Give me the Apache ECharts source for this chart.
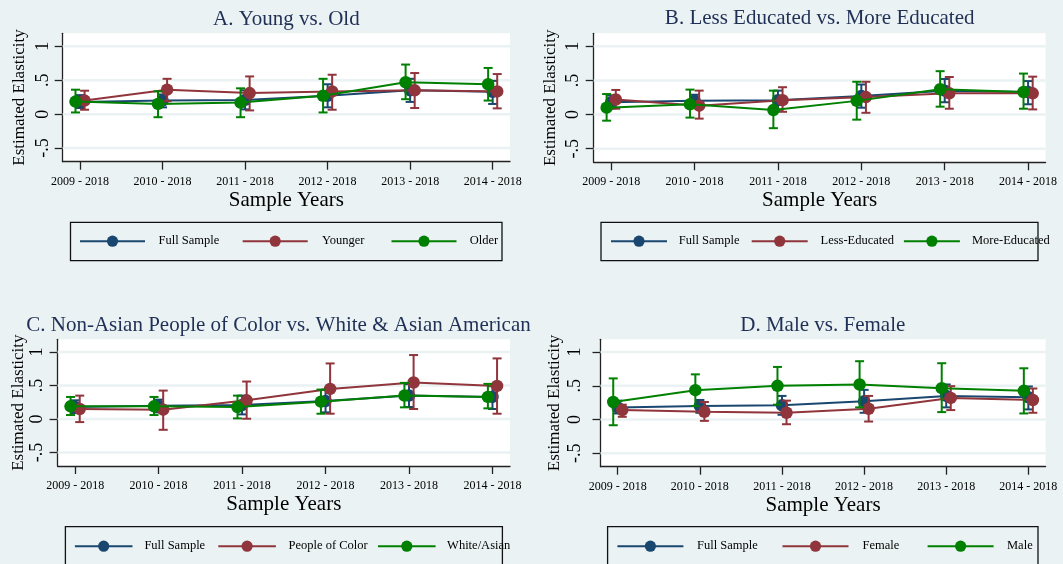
<!DOCTYPE html>
<html><head><meta charset="utf-8">
<script src="https://cdn.jsdelivr.net/npm/echarts@6/dist/echarts.min.js"></script>
<style>html,body{margin:0;padding:0;background:#eaf2f3}#c{width:1063px;height:564px}</style>
</head><body><div id="c"></div>
<script>
// ---------- data ----------
const categories = ['2009 - 2018', '2010 - 2018', '2011 - 2018', '2012 - 2018', '2013 - 2018', '2014 - 2018'];
const yTicks = [-0.5, 0, 0.5, 1];
const panelTitles = ['A. Young vs. Old', 'B. Less Educated vs. More Educated',
  'C. Non-Asian People of Color vs. White & Asian American', 'D. Male vs. Female'];

const fullVal = [0.18, 0.20, 0.21, 0.27, 0.35, 0.33];
const fullLo  = [0.09, 0.10, 0.07, 0.10, 0.18, 0.15];
const fullHi  = [0.28, 0.29, 0.35, 0.44, 0.52, 0.49];
// A
const youngerVal = [0.20, 0.36, 0.31, 0.335, 0.35, 0.335];
const youngerLo  = [0.065, 0.19, 0.055, 0.065, 0.09, 0.085];
const youngerHi  = [0.345, 0.52, 0.555, 0.58, 0.605, 0.59];
const olderVal = [0.185, 0.15, 0.17, 0.27, 0.47, 0.44];
const olderLo  = [0.025, -0.045, -0.045, 0.025, 0.22, 0.20];
const olderHi  = [0.36, 0.335, 0.38, 0.52, 0.73, 0.68];
// B
const lessEdVal = [0.22, 0.13, 0.21, 0.255, 0.31, 0.31];
const lessEdLo  = [0.085, -0.06, 0.04, 0.025, 0.085, 0.075];
const lessEdHi  = [0.36, 0.35, 0.40, 0.48, 0.55, 0.555];
const moreEdVal = [0.10, 0.15, 0.065, 0.20, 0.37, 0.33];
const moreEdLo  = [-0.09, -0.045, -0.20, -0.075, 0.115, 0.085];
const moreEdHi  = [0.30, 0.365, 0.35, 0.48, 0.635, 0.60];
// C
const pocVal = [0.15, 0.14, 0.28, 0.45, 0.545, 0.495];
const pocLo  = [-0.045, -0.16, 0.005, 0.08, 0.15, 0.08];
const pocHi  = [0.35, 0.425, 0.56, 0.83, 0.955, 0.905];
const whiteAsianVal = [0.19, 0.19, 0.18, 0.26, 0.35, 0.33];
const whiteAsianLo  = [0.06, 0.06, 0.01, 0.08, 0.175, 0.16];
const whiteAsianHi  = [0.33, 0.33, 0.35, 0.44, 0.54, 0.525];
// D
const femaleVal = [0.14, 0.115, 0.10, 0.16, 0.32, 0.29];
const femaleLo  = [0.04, -0.02, -0.07, -0.03, 0.14, 0.10];
const femaleHi  = [0.22, 0.26, 0.28, 0.35, 0.495, 0.46];
const maleVal = [0.26, 0.435, 0.50, 0.52, 0.465, 0.425];
const maleLo  = [-0.085, 0.20, 0.22, 0.18, 0.11, 0.09];
const maleHi  = [0.61, 0.67, 0.78, 0.865, 0.835, 0.76];

const groupNames = [
  ['Full Sample', 'Younger', 'Older'],
  ['Full Sample', 'Less-Educated', 'More-Educated'],
  ['Full Sample', 'People of Color', 'White/Asian'],
  ['Full Sample', 'Female', 'Male']
];
const panelData = [
  [[fullVal, fullLo, fullHi], [youngerVal, youngerLo, youngerHi], [olderVal, olderLo, olderHi]],
  [[fullVal, fullLo, fullHi], [lessEdVal, lessEdLo, lessEdHi], [moreEdVal, moreEdLo, moreEdHi]],
  [[fullVal, fullLo, fullHi], [pocVal, pocLo, pocHi], [whiteAsianVal, whiteAsianLo, whiteAsianHi]],
  [[fullVal, fullLo, fullHi], [femaleVal, femaleLo, femaleHi], [maleVal, maleLo, maleHi]]
];

// ---------- styling / layout ----------
const BG = '#eaf2f3';
const colors = ['#1a476f', '#90353b', '#008000'];
const offsets = [0, 0.055, -0.055];
const FONT = '"Liberation Serif", "Times New Roman", serif';
const TITLE_COLOR = '#1f2f55';

const layouts = [
  {left: 62.7, top: 33.3, width: 447.3, height: 128.4, nameGap: 35, labelMargin: 10, tx: 286.3, ty: 19},
  {left: 593.7, top: 33.3, width: 451.9, height: 129, nameGap: 35, labelMargin: 11, tx: 819.7, ty: 18.5},
  {left: 57.6, top: 339.3, width: 452.4, height: 126.7, nameGap: 31, labelMargin: 11.5, tx: 278.5, ty: 325},
  {left: 600.5, top: 339.3, width: 445.1, height: 127.4, nameGap: 37.5, labelMargin: 16, tx: 822.8, ty: 325}
];
const legendBoxes = [
  {x: 70.5, y: 222.3, w: 431.5, h: 38.4, cy: 241.7, len: 65, items: [[79, 157.6], [241.7, 321], [390.5, 468.8]]},
  {x: 601, y: 222.3, w: 437, h: 38.4, cy: 241.7, len: 56, items: [[610, 677.8], [750.7, 819.5], [902.9, 971]]},
  {x: 65.4, y: 526.7, w: 437, h: 38.4, cy: 546.7, len: 57.6, items: [[73.9, 143.4], [217.3, 287.5], [377, 446.1]]},
  {x: 607.6, y: 526.7, w: 430.4, h: 38.4, cy: 546.7, len: 66, items: [[616.4, 696], [781.5, 861.5], [926.6, 1006]]}
];

const fmtY = v => (v === 0 ? '0' : String(v).replace('0.', '.'));

const grids = [], xAxes = [], yAxes = [], series = [], legends = [], graphics = [];

layouts.forEach((L, gi) => {
  grids.push({left: L.left, top: L.top, width: L.width, height: L.height, show: true,
    backgroundColor: '#ffffff', borderWidth: 0, containLabel: false});
  xAxes.push({type: 'value', gridIndex: gi, min: -0.21, max: 5.21,
    name: 'Sample Years', nameLocation: 'middle', nameGap: 28,
    nameTextStyle: {fontFamily: FONT, fontSize: 21, color: '#000'},
    axisLine: {show: true, onZero: false, lineStyle: {color: '#222', width: 1.3}},
    axisTick: {show: true, length: 8, customValues: categories.map((c, i) => i), lineStyle: {color: '#222', width: 1.3}},
    axisLabel: {customValues: categories.map((c, i) => i), formatter: v => categories[Math.round(v)] || '',
      fontFamily: FONT, fontSize: 12, color: '#000', margin: 14},
    splitLine: {show: false}});
  yAxes.push({type: 'value', gridIndex: gi, min: -0.7, max: 1.19,
    name: 'Estimated Elasticity', nameLocation: 'middle', nameGap: L.nameGap,
    nameTextStyle: {fontFamily: FONT, fontSize: 17, color: '#000'},
    axisLine: {show: true, onZero: false, lineStyle: {color: '#222', width: 1.3}},
    axisTick: {show: true, length: 8, customValues: yTicks, lineStyle: {color: '#222', width: 1.3}},
    axisLabel: {customValues: yTicks, formatter: fmtY, rotate: 90, fontFamily: FONT, fontSize: 18,
      color: '#000', margin: L.labelMargin},
    splitLine: {show: false}});

  // gridlines
  series.push({type: 'custom', name: 'grid' + gi, xAxisIndex: gi, yAxisIndex: gi, silent: true, z: 1,
    data: yTicks.map(v => [0, v]), encode: {x: 0, y: 1},
    renderItem: (params, api) => {
      const p = api.coord([0, api.value(1)]);
      const cs = params.coordSys;
      return {type: 'line', shape: {x1: cs.x, y1: p[1], x2: cs.x + cs.width, y2: p[1]},
        style: {stroke: BG, lineWidth: 2.5}};
    }});

  panelData[gi].forEach((d, si) => {
    const color = colors[si], off = offsets[si];
    const [vals, lo, hi] = d;
    series.push({type: 'custom', name: groupNames[gi][si] + ' CI ' + gi, xAxisIndex: gi, yAxisIndex: gi,
      silent: true, z: 2 + si * 2,
      data: lo.map((l, i) => [i + off, l, hi[i]]), encode: {x: 0, y: [1, 2]},
      renderItem: (params, api) => {
        const x = api.value(0);
        const a = api.coord([x, api.value(1)]);
        const b = api.coord([x, api.value(2)]);
        const w = 4.5;
        const st = {stroke: color, lineWidth: 2};
        return {type: 'group', children: [
          {type: 'line', shape: {x1: a[0], y1: a[1], x2: b[0], y2: b[1]}, style: st},
          {type: 'line', shape: {x1: a[0] - w, y1: a[1], x2: a[0] + w, y2: a[1]}, style: st},
          {type: 'line', shape: {x1: b[0] - w, y1: b[1], x2: b[0] + w, y2: b[1]}, style: st}
        ]};
      }});
    series.push({type: 'line', name: groupNames[gi][si], xAxisIndex: gi, yAxisIndex: gi,
      z: 3 + si * 2, silent: true,
      data: vals.map((v, i) => [i + off, v]), symbol: 'circle', symbolSize: 12.5, showSymbol: true,
      itemStyle: {color: color}, lineStyle: {color: color, width: 2}});
  });

  // legends
  const LB = legendBoxes[gi];
  graphics.push({type: 'rect', shape: {x: LB.x, y: LB.y, width: LB.w, height: LB.h},
    style: {fill: 'none', stroke: '#111', lineWidth: 1.3}, z: 0});
  LB.items.forEach((it, si) => {
    legends.push({data: [groupNames[gi][si]], left: it[0], top: LB.cy - 7, padding: 0,
      itemWidth: LB.len, itemHeight: 14, selectedMode: false,
      textStyle: {fontFamily: FONT, fontSize: 12.5, color: '#000', padding: [0, 0, 0, Math.max(0, it[1] - it[0] - LB.len - 5)]}});
  });

  graphics.push({type: 'text', x: L.tx, y: L.ty, z: 10,
    style: {text: panelTitles[gi], fill: TITLE_COLOR, font: '21px ' + FONT, textAlign: 'center', textVerticalAlign: 'middle'}});
});

const chart = echarts.init(document.getElementById('c'), null, {renderer: 'canvas'});
chart.setOption({
  backgroundColor: BG,
  animation: false,
  grid: grids, xAxis: xAxes, yAxis: yAxes, series: series, legend: legends,
  graphic: graphics
});
</script></body></html>
